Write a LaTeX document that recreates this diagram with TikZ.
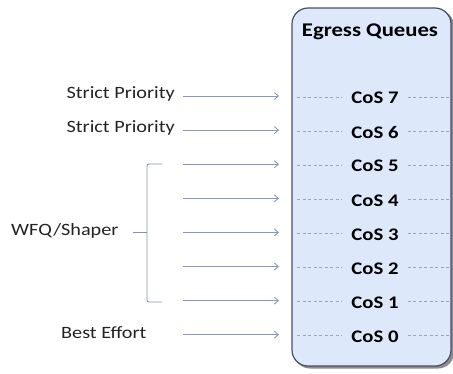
\documentclass[tikz,border=0pt]{standalone}
\usepackage{fontspec}
\setmainfont{Carlito}
\usepackage{graphicx}
\usetikzlibrary{arrows.meta}
\definecolor{boxfill}{RGB}{221,232,250}
\definecolor{boxline}{RGB}{70,80,100}
\definecolor{arrowc}{RGB}{135,152,185}
\definecolor{dashc}{RGB}{150,165,195}
\definecolor{textc}{RGB}{35,35,35}
\newcommand{\wtext}[1]{\scalebox{1.17}[1]{#1}}
\tikzset{
  lbl/.style={font=\fontsize{17.3}{19}\selectfont, text=textc, inner sep=0pt},
  cos/.style={font=\fontsize{17.7}{19}\selectfont\bfseries, text=black, inner sep=0pt},
  inarrow/.style={draw=arrowc, line width=0.9pt, -{Straight Barb[length=4pt,width=7pt]}},
  qdash/.style={draw=dashc, line width=0.7pt, dash pattern=on 3pt off 2.5pt},
  brace/.style={draw=arrowc!80!gray, line width=0.9pt, rounded corners=2pt}
}
\begin{document}
\begin{tikzpicture}[x=1pt,y=-1pt]
\useasboundingbox (0,0) rectangle (453,373);
% box shadow and box
\fill[black!45, rounded corners=16pt] (294,10) rectangle (454,368.5);
\draw[boxline, fill=boxfill, line width=1.2pt, rounded corners=16pt] (292,8) rectangle (451,366);
\node[cos, font=\fontsize{19.4}{21}\selectfont\bfseries] (eq) at (370,32) {\wtext{Egress Queues}};
% rows
\foreach \k/\n in {0/7,1/6,2/5,3/4,4/3,5/2,6/1,7/0} {
  \pgfmathsetmacro{\yy}{98+34.1*\k}
  \node[cos] (c\n) at (375,\yy) {\wtext{CoS \n}};
  \coordinate (dl\n) at (297,\yy-1);
  \coordinate (dr\n) at (451,\yy-1);
  \draw[qdash] (dl\n) -- ([xshift=-10pt]c\n.west |- dl\n);
  \draw[qdash] ([xshift=9pt]c\n.east |- dr\n) -- (dr\n);
  \coordinate (as\n) at (183,\yy-2);
  \coordinate (ae\n) at (279,\yy-2);
  \draw[inarrow] (as\n) -- (ae\n);
}
% labels
\node[lbl, anchor=east] (sp7) at (175,94) {\wtext{Strict Priority}};
\node[lbl, anchor=east] (sp6) at (175,128) {\wtext{Strict Priority}};
\node[lbl, anchor=west] (wfq) at (11,231) {\wtext{WFQ/Shaper}};
\node[lbl, anchor=west] (be) at (61,333) {\wtext{Best Effort}};
% bracket
\coordinate (bt) at (162,164);
\coordinate (bb) at (162,302);
\coordinate (bm) at (133,232);
\draw[brace] (bt) -- (147,164) -- (147,302) -- (bb);
\draw[brace] (bm) -- (147,232);
\end{tikzpicture}
\end{document}
